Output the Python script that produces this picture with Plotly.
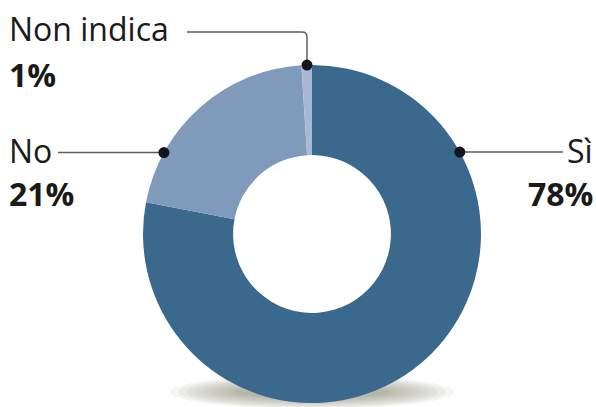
import math
import plotly.graph_objects as go

# ---- data ----
labels = ["Sì", "No", "Non indica"]
values = [78, 21, 1]
pct_text = ["78%", "21%", "1%"]
colors = ["#3b688d", "#7f9abb", "#aab9d3"]

W, H = 596, 407
CX, CY, R = 312, 234, 169  # donut geometry in pixels (top-left origin)
HOLE = 0.467

def px(x):
    return x / W

def py(y):
    return 1 - y / H

fig = go.Figure()
fig.add_trace(go.Pie(
    labels=labels, values=values, sort=False, direction="clockwise", rotation=0,
    hole=HOLE, marker=dict(colors=colors, line=dict(width=0)),
    textinfo="none", hoverinfo="label+percent", showlegend=False,
    domain=dict(x=[px(CX - R), px(CX + R)], y=[py(CY + R), py(CY - R)]),
))

shapes = []
# soft shadow under the donut
for i in range(9):
    rx = 142 - i * 8
    ry = 17 - i * 1.3
    sy = 392
    shapes.append(dict(type="circle", xref="paper", yref="paper", layer="below",
                       x0=px(CX - rx), x1=px(CX + rx), y0=py(sy + ry), y1=py(sy - ry),
                       fillcolor="rgba(115,115,85,0.07)", line=dict(width=0)))

# leader anchor angles (degrees clockwise from top) for each label
anchor_deg = {"Sì": 61.0, "No": 298.8, "Non indica": 358.3}

def on_ring(deg):
    a = math.radians(deg)
    return CX + R * math.sin(a), CY - R * math.cos(a)

line_style = dict(color="#5e5e5e", width=1.5)
# Sì
sx, sy_ = on_ring(anchor_deg["Sì"])
shapes.append(dict(type="line", xref="paper", yref="paper", x0=px(sx), y0=py(sy_),
                   x1=px(563), y1=py(sy_), line=line_style))
# No
nx, ny = on_ring(anchor_deg["No"])
shapes.append(dict(type="line", xref="paper", yref="paper", x0=px(58), y0=py(ny),
                   x1=px(nx), y1=py(ny), line=line_style))
# Non indica (elbow with rounded corner)
ux, uy = on_ring(anchor_deg["Non indica"])
ly = 32
path = (f"M {px(187)},{py(ly)} L {px(ux - 5)},{py(ly)} "
        f"Q {px(ux)},{py(ly)} {px(ux)},{py(ly + 5)} L {px(ux)},{py(uy)}")
shapes.append(dict(type="path", xref="paper", yref="paper", path=path, line=line_style))

# dots
for x, y in [(sx, sy_), (nx, ny), (ux, uy)]:
    rr = 5.5
    shapes.append(dict(type="circle", xref="paper", yref="paper",
                       x0=px(x - rr), x1=px(x + rr), y0=py(y + rr), y1=py(y - rr),
                       fillcolor="#14141c", line=dict(width=0)))

FONT = "Open Sans, Liberation Sans, sans-serif"
ann = []
def add(text, x, y, xanchor, bold=False):
    ann.append(dict(text=f"<b>{text}</b>" if bold else text, x=px(x), y=py(y),
                    xref="paper", yref="paper", xanchor=xanchor, yanchor="middle",
                    showarrow=False,
                    font=dict(family=FONT, size=32, color="#1a1a1a")))

add(labels[2], 7, 28, "left")
add(pct_text[2], 7, 74, "left", bold=True)
add(labels[1], 7, 150, "left")
add(pct_text[1], 7, 193, "left", bold=True)
add(labels[0], 595, 150, "right")
add(pct_text[0], 595, 193, "right", bold=True)

fig.update_layout(width=W, height=H, margin=dict(l=0, r=0, t=0, b=0),
                  paper_bgcolor="white", plot_bgcolor="white",
                  shapes=shapes, annotations=ann)
fig.write_html("out.html")
